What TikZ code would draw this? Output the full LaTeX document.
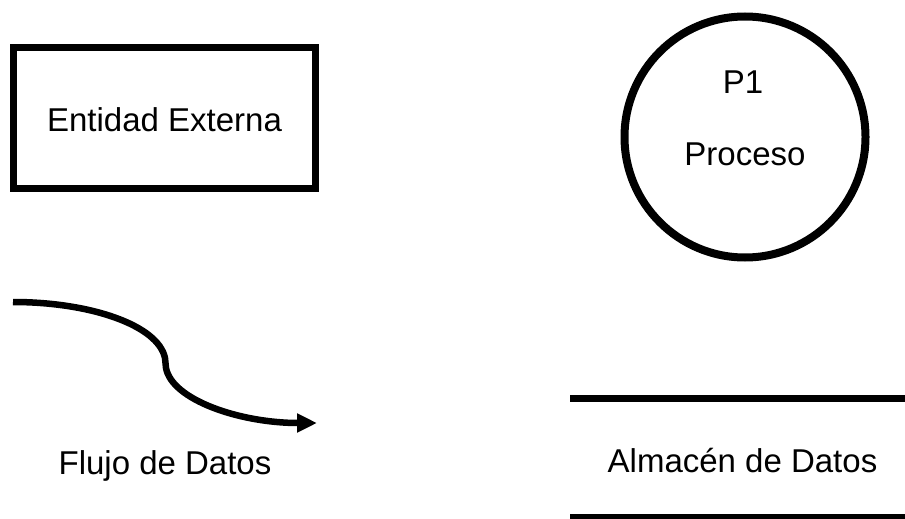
\documentclass[tikz,border=0pt]{standalone}
\usepackage{fontspec}
\setmainfont{Liberation Sans}
\usetikzlibrary{arrows.meta}
\begin{document}
\begin{tikzpicture}[x=1pt,y=-1pt,
  lbl/.style={font=\fontsize{33}{40}\selectfont, inner sep=0pt, anchor=base},
  grueso/.style={line width=6.5pt}]
\useasboundingbox (0,0) rectangle (905,519);
% entidad externa
\node[draw, line width=7pt, minimum width=301.5pt, minimum height=140.5pt] (ext) at (164.25,118.25) {};
\node[lbl] (extT) at (164.5,131) {Entidad Externa};
% proceso
\node[draw, circle, line width=8pt, minimum size=241pt, inner sep=0pt] (proc) at (745,137) {};
\node[lbl] (procId) at (743,93) {P1};
\node[lbl] (procT) at (745,165) {Proceso};
% flujo de datos
\coordinate (fluA) at (13,302);
\coordinate (fluB) at (165,358);
\coordinate (fluC) at (166,368);
\coordinate (fluD) at (317,423);
\draw[grueso, -{Triangle[length=20pt,width=18pt]}] (fluA) .. controls (90,302) and (158,325) .. (fluB)
  -- (fluC) .. controls (172,400) and (240,423) .. (fluD);
\node[lbl] (fluT) at (165,474) {Flujo de Datos};
% almacen de datos
\coordinate (almA) at (570,398.5);
\coordinate (almB) at (905,398.5);
\coordinate (almC) at (570,517);
\coordinate (almD) at (905,517);
\draw[grueso] (almA) -- (almB) (almC) -- (almD);
\node[lbl] (almT) at (742.5,472) {Almacén de Datos};
\end{tikzpicture}
\end{document}
